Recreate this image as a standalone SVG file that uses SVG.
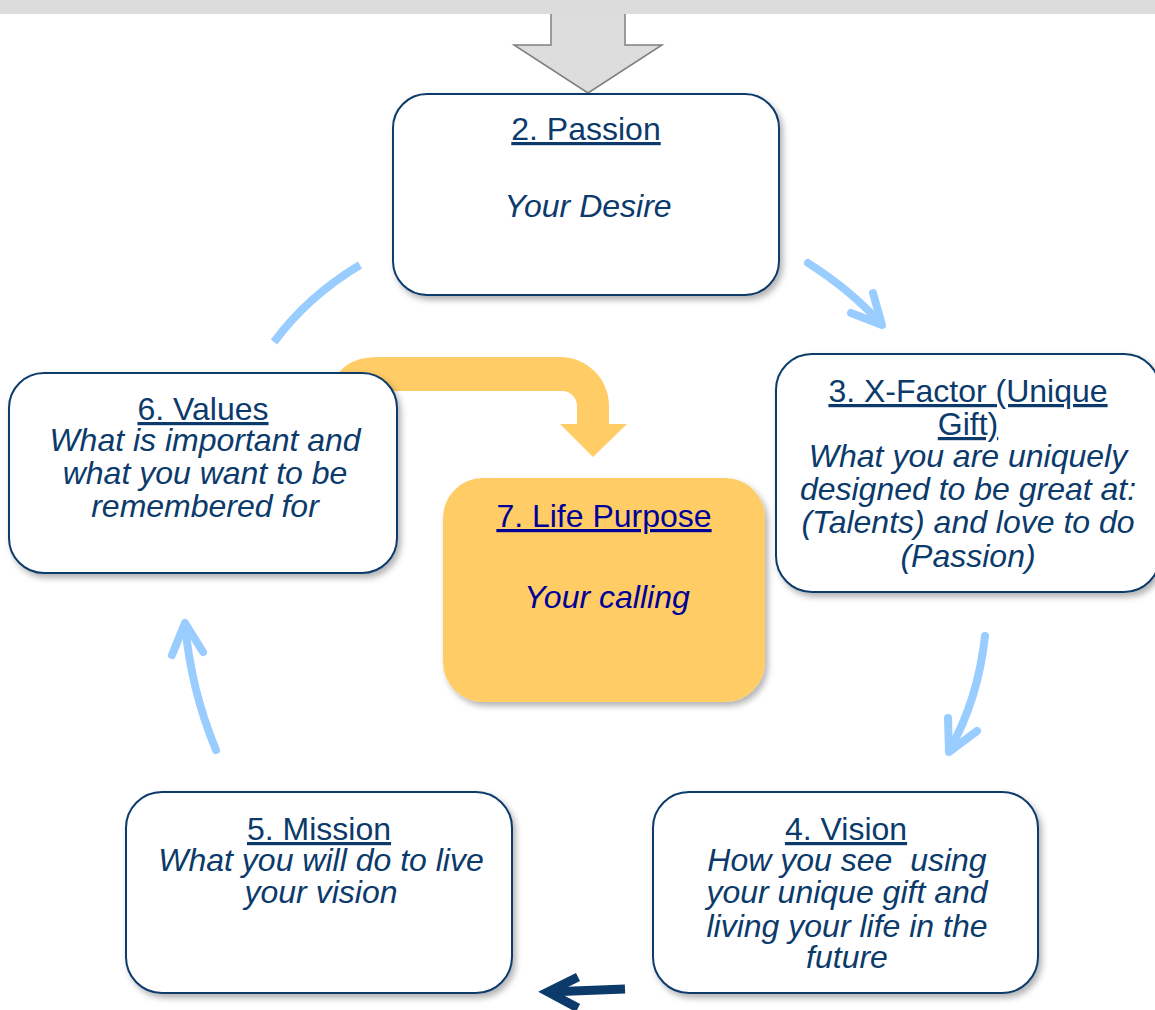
<svg xmlns="http://www.w3.org/2000/svg" width="1155" height="1010" viewBox="0 0 1155 1010">
  <defs>
    <filter id="shadow" x="-10%" y="-10%" width="125%" height="130%">
      <feDropShadow dx="3" dy="4" stdDeviation="3" flood-color="#000000" flood-opacity="0.3"/>
    </filter>
    <style>
      .box { fill: #ffffff; stroke: #0b3a6b; stroke-width: 2; filter: url(#shadow); }
      .gold { fill: #ffcc66; stroke: none; filter: url(#shadow); }
      text { font-family: "Liberation Sans", Arial, sans-serif; font-size: 32px; text-anchor: middle; fill: #0b3a6b; white-space: pre; }
      .title { text-decoration: underline; }
      .desc { font-style: italic; }
      .purpose { fill: #000099; }
      .flow { fill: none; stroke: #99ccff; stroke-width: 8; stroke-linecap: round; stroke-linejoin: round; }
      .flow-open { fill: none; stroke: #99ccff; stroke-width: 8; stroke-linecap: butt; }
      .back { fill: none; stroke: #0b3a6b; stroke-width: 9; stroke-linecap: butt; stroke-linejoin: miter; }
    </style>
  </defs>

  <!-- incoming block arrow and top band -->
  <g id="entry">
    <path d="M 551 0 L 551 45 L 514 45 L 588 93 L 662 45 L 625 45 L 625 0" fill="#dddddd" stroke="#808080" stroke-width="1.5"/>
    <rect x="0" y="0" width="1155" height="14" fill="#dcdcdc"/>
  </g>

  <!-- bent arrow into the life purpose node -->
  <g id="purpose-arrow">
    <path d="M 330 400 Q 333 357 378 357 L 560 357 A 49 49 0 0 1 609 406 L 609 424 L 627 424 L 593 457 L 560 424 L 577 424 L 577 406 A 15 15 0 0 0 562 391 L 330 391 Z" fill="#ffcc66"/>
  </g>

  <g id="connectors">
    <!-- values to passion -->
    <path class="flow-open" d="M 274 342 Q 308 296 360 265"/>
    <!-- passion to x-factor -->
    <path class="flow" d="M 808 263 Q 852 291 881 324"/>
    <path class="flow" d="M 873 293 L 882 325 L 851 313"/>
    <!-- x-factor to vision -->
    <path class="flow" d="M 985 636 Q 978 700 949 751"/>
    <path class="flow" d="M 948 718 L 949 752 L 977 731"/>
    <!-- mission to values -->
    <path class="flow" d="M 216 750 Q 191 690 185 624"/>
    <path class="flow" d="M 172 655 L 185 623 L 203 652"/>
    <!-- vision to mission -->
    <path class="back" d="M 625 989 L 548 992"/>
    <path class="back" d="M 578 977 L 548 992 L 578 1008"/>
  </g>

  <g id="node-passion">
    <rect class="box" x="393" y="94" width="386" height="201" rx="34"/>
    <text class="title" x="586" y="140">2. Passion</text>
    <text class="desc" x="588" y="217">Your Desire</text>
  </g>

  <g id="node-xfactor">
    <rect class="box" x="776" y="354" width="384" height="238" rx="36"/>
    <text class="title" x="968" y="402">3. X-Factor (Unique</text>
    <text class="title" x="968" y="435">Gift)</text>
    <text class="desc" x="968" y="467">What you are uniquely</text>
    <text class="desc" x="968" y="500">designed to be great at:</text>
    <text class="desc" x="968" y="533">(Talents) and love to do</text>
    <text class="desc" x="968" y="567">(Passion)</text>
  </g>

  <g id="node-values">
    <rect class="box" x="9" y="373" width="388" height="200" rx="35"/>
    <text class="title" x="203" y="420">6. Values</text>
    <text class="desc" x="205" y="451">What is important and</text>
    <text class="desc" x="205" y="484">what you want to be</text>
    <text class="desc" x="205" y="517">remembered for</text>
  </g>

  <g id="node-purpose">
    <rect class="gold" x="443" y="478" width="322" height="224" rx="40"/>
    <text class="title purpose" x="604" y="527">7. Life Purpose</text>
    <text class="desc purpose" x="607" y="608">Your calling</text>
  </g>

  <g id="node-vision">
    <rect class="box" x="653" y="792" width="385" height="201" rx="36"/>
    <text class="title" x="846" y="840">4. Vision</text>
    <text class="desc" x="847" y="871" xml:space="preserve">How you see  using</text>
    <text class="desc" x="847" y="903">your unique gift and</text>
    <text class="desc" x="847" y="937">living your life in the</text>
    <text class="desc" x="847" y="968">future</text>
  </g>

  <g id="node-mission">
    <rect class="box" x="126" y="792" width="386" height="201" rx="36"/>
    <text class="title" x="319" y="840">5. Mission</text>
    <text class="desc" x="321" y="871">What you will do to live</text>
    <text class="desc" x="321" y="903">your vision</text>
  </g>
</svg>
